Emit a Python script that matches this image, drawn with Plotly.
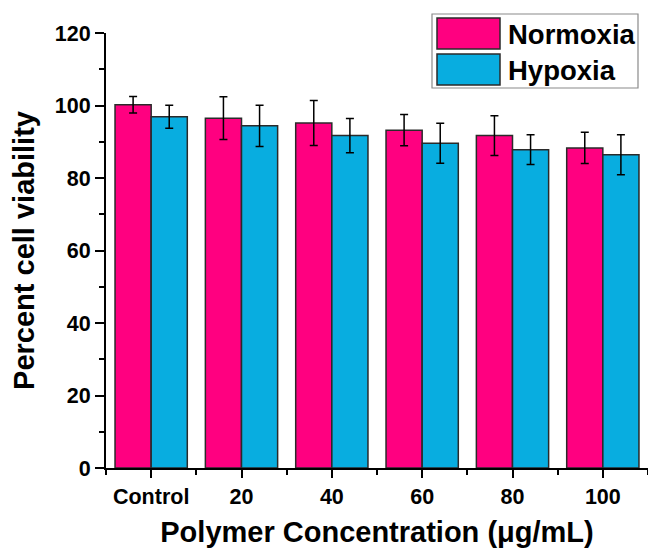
import plotly.graph_objects as go

categories = ["Control", "20", "40", "60", "80", "100"]
series_names = ["Normoxia", "Hypoxia"]
normoxia = [100.2, 96.5, 95.2, 93.2, 91.7, 88.3]
normoxia_err = [2.3, 5.9, 6.2, 4.3, 5.5, 4.3]
hypoxia = [96.9, 94.4, 91.7, 89.6, 87.8, 86.4]
hypoxia_err = [3.2, 5.7, 4.7, 5.5, 4.1, 5.5]
colors = ["#FF0080", "#08ADE0"]

FONT = "Liberation Sans, Arial, sans-serif"
xpos = list(range(len(categories)))

fig = go.Figure()
for name, vals, errs, col in zip(series_names, [normoxia, hypoxia], [normoxia_err, hypoxia_err], colors):
    fig.add_trace(go.Bar(
        x=xpos, y=vals, name=name,
        marker=dict(color=col, line=dict(color="#2a2a2a", width=1.5)),
        error_y=dict(type="data", array=errs, visible=True, color="black", thickness=1.5, width=4),
        showlegend=False,
    ))

# custom legend (paper coords)
L, W, T, H = 106, 542, 33, 435
def px(x): return (x - L) / W
def py(y): return (T + H - y) / H

fig.add_shape(type="rect", xref="paper", yref="paper", x0=px(432), x1=px(638), y0=py(88), y1=py(14),
              line=dict(color="#8a8a8a", width=1.2), fillcolor="white", layer="above")
row_tops = [18, 54]
for i, (name, col) in enumerate(zip(series_names, colors)):
    t = row_tops[i]
    fig.add_shape(type="rect", xref="paper", yref="paper", x0=px(437), x1=px(500), y0=py(t + 31), y1=py(t),
                  line=dict(color="#2a2a2a", width=1.5), fillcolor=col, layer="above")
    fig.add_annotation(xref="paper", yref="paper", x=px(506), y=py(t + 16), text="<b>%s</b>" % name,
                       showarrow=False, xanchor="left", yanchor="middle",
                       font=dict(family=FONT, size=27.5, color="black"))

fig.update_layout(
    width=648, height=548,
    margin=dict(l=106, r=0, t=33, b=80),
    paper_bgcolor="white", plot_bgcolor="white",
    barmode="group", bargap=0.2, bargroupgap=0,
    font=dict(family=FONT, color="black"),
)
fig.update_xaxes(
    range=[-0.5, len(categories) - 0.5],
    tickvals=xpos, ticktext=["<b>%s</b>" % c for c in categories],
    tickfont=dict(family=FONT, size=21.5, color="black"),
    showline=True, linecolor="black", linewidth=2,
    ticks="outside", ticklen=8, tickwidth=2, tickcolor="black",
    minor=dict(tickvals=[i + 0.5 for i in range(-1, len(categories))], ticks="outside", ticklen=5, tickwidth=2, tickcolor="black"),
    showgrid=False, zeroline=False,
    title=dict(text="<b>Polymer Concentration (μg/mL)</b>", font=dict(family=FONT, size=29, color="black"), standoff=19),
)
fig.update_yaxes(
    range=[0, 120], tickvals=[0, 20, 40, 60, 80, 100, 120],
    ticktext=["<b>%d</b>" % v for v in [0, 20, 40, 60, 80, 100, 120]],
    tickfont=dict(family=FONT, size=21.5, color="black"),
    showline=True, linecolor="black", linewidth=2,
    ticks="outside", ticklen=9, tickwidth=2, tickcolor="black",
    minor=dict(dtick=10, ticks="outside", ticklen=5, tickwidth=2, tickcolor="black"),
    showgrid=False, zeroline=False,
    title=dict(text="<b>Percent cell viability</b>", font=dict(family=FONT, size=29, color="black"), standoff=12),
)

fig.write_html("out.html")
